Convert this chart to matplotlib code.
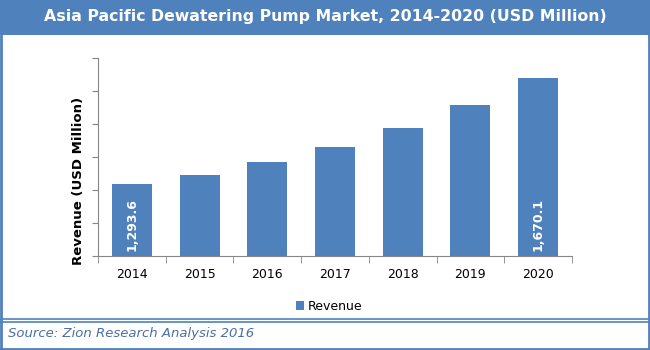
"""
Asia Pacific dewatering pump market bar chart.
"""

import numpy as np
import matplotlib.pyplot as plt
from matplotlib.patches import Rectangle
from matplotlib.lines import Line2D

years = ["2014", "2015", "2016", "2017", "2018", "2019", "2020"]
revenue = [1293.6, 1325.6, 1371.8, 1425.0, 1492.6, 1574.3, 1670.1]
shown_labels = {0: "1,293.6", 6: "1,670.1"}

blue = "#4F81BD"
axis_grey = "#868686"

fig = plt.figure(figsize=(6.5, 3.5), dpi=100)
W, H = 650.0, 350.0

# title band
fig.patches.append(Rectangle((0, 1 - 35 / H), 1, 35 / H, transform=fig.transFigure,
                             facecolor=blue, edgecolor="none", zorder=0))
fig.text(0.5, 1 - 17 / H, "Asia Pacific Dewatering Pump Market, 2014-2020 (USD Million)",
         color="white", fontsize=11.3, fontweight="bold", ha="center", va="center")

# frame lines
def hline(y, lw=1.2):
    fig.lines.append(Line2D([0, 1], [1 - y / H, 1 - y / H], transform=fig.transFigure,
                            color=blue, lw=lw))

def vline(x, lw=2.0):
    fig.lines.append(Line2D([x / W, x / W], [0, 1 - 35 / H], transform=fig.transFigure,
                            color=blue, lw=lw))

vline(1)
vline(648.5)
hline(318.5)
hline(321.5)
hline(349, lw=2.0)

fig.text(8 / W, 1 - 334 / H, "Source: Zion Research Analysis 2016", color="#4A6FA5",
         fontsize=9.5, style="italic", ha="left", va="center")

# plot area
ax = fig.add_axes([98 / W, 1 - 256 / H, 474 / W, 198 / H])
x = np.arange(len(years))
bars = ax.bar(x, revenue, width=0.59, color=blue, label="Revenue", zorder=2)

for i, txt in shown_labels.items():
    ax.text(x[i], 1055, txt, rotation=90, color="white", fontsize=9,
            fontweight="bold", ha="center", va="bottom", zorder=3)

ax.set_xlim(-0.5, len(years) - 0.5)
ax.set_ylim(1038, 1741)
ax.set_yticks(np.linspace(1038, 1741, 7))
ax.set_yticklabels([])
ax.set_xticks(x)
ax.set_xticklabels(years, fontsize=9)
ax.set_xticks(np.arange(-0.5, len(years)), minor=True)
ax.tick_params(axis="x", which="major", length=0, pad=9)
ax.tick_params(axis="x", which="minor", length=5, color=axis_grey, direction="out")
ax.tick_params(axis="y", length=4, color=axis_grey, direction="out")

for side in ["top", "right"]:
    ax.spines[side].set_visible(False)
for side in ["left", "bottom"]:
    ax.spines[side].set_color(axis_grey)

ax.set_ylabel("Revenue (USD Million)", fontsize=9.5, fontweight="bold")
ax.yaxis.set_label_coords(-0.027, 0.38)

ax.legend(loc="center", bbox_to_anchor=(0.488, -0.253), frameon=False, fontsize=9,
          handlelength=0.7, handleheight=0.7, handletextpad=0.3)

fig.savefig("out.png", dpi=100)
